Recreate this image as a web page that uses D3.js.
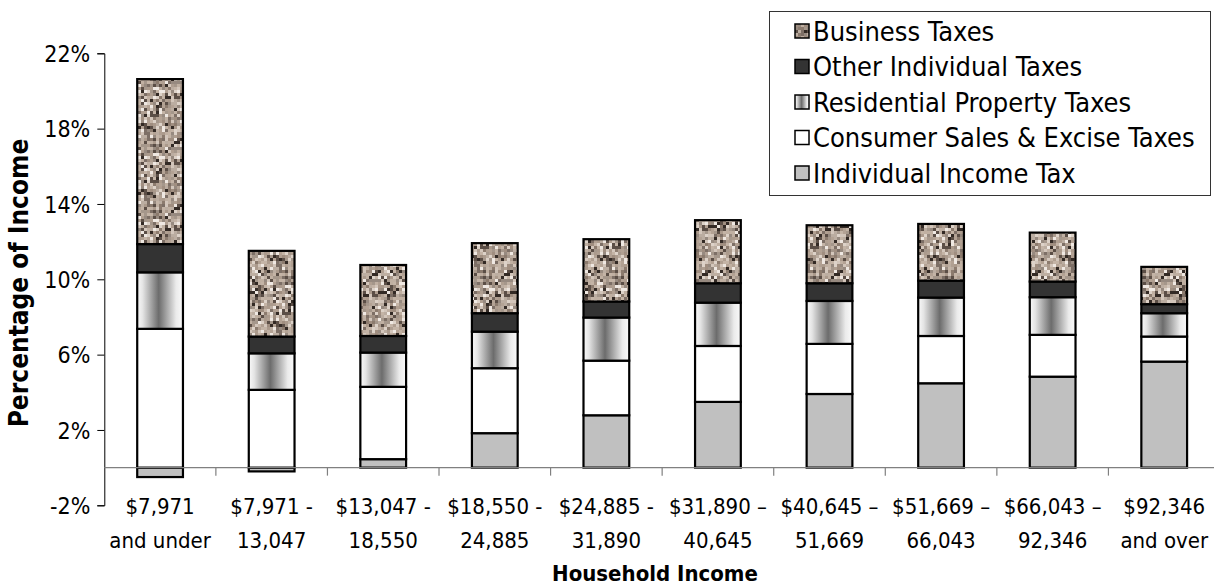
<!DOCTYPE html>
<html>
<head>
<meta charset="utf-8">
<script src="https://cdn.jsdelivr.net/npm/d3@7"></script>
<style>
  html, body { margin: 0; padding: 0; background: #fff; }
  svg { display: block; }
  text { font-family: "DejaVu Sans Condensed", "DejaVu Sans", sans-serif; font-stretch: condensed; fill: #000; }
</style>
</head>
<body>
<svg id="chart" width="1214" height="586"></svg>
<script>
// ---- data ----
const categoriesLine1 = ["$7,971", "$7,971 -", "$13,047 -", "$18,550 -", "$24,885 -", "$31,890 \u2013", "$40,645 \u2013", "$51,669 \u2013", "$66,043 \u2013", "$92,346"];
const categoriesLine2 = ["and under", "13,047", "18,550", "24,885", "31,890", "40,645", "51,669", "66,043", "92,346", "and over"];
const seriesNames = ["Individual Income Tax", "Consumer Sales & Excise Taxes", "Residential Property Taxes", "Other Individual Taxes", "Business Taxes"];
const incomeTax   = [-0.50, -0.20, 0.45, 1.83, 2.78, 3.49, 3.91, 4.48, 4.83, 5.63];
const consumer    = [ 7.37,  4.13, 3.84, 3.45, 2.90, 2.97, 2.66, 2.51, 2.22, 1.33];
const residential = [ 3.00,  1.94, 1.82, 1.94, 2.29, 2.30, 2.28, 2.04, 2.00, 1.24];
const otherIndiv  = [ 1.50,  0.89, 0.88, 0.98, 0.85, 1.03, 0.94, 0.90, 0.83, 0.48];
const business    = [ 8.76,  4.55, 3.77, 3.72, 3.31, 3.35, 3.08, 3.01, 2.60, 1.98];
const yTicks = [-2, 2, 6, 10, 14, 18, 22];

const seriesValues = [incomeTax, consumer, residential, otherIndiv, business];
const rows = categoriesLine1.map((c, i) => {
  const r = { idx: i };
  seriesNames.forEach((s, k) => r[s] = seriesValues[k][i]);
  return r;
});

// ---- setup ----
const svg = d3.select("#chart");
const defs = svg.append("defs");

// speckled texture for business taxes (deterministic hash, decorative only)
const pal = ["#b3a294", "#a08e80", "#c4b4a6", "#8c7b6e", "#d3c6bb", "#efe8e2", "#5b4e46", "#332a25",
             "#bbada1", "#978a80", "#ab9a8c", "#ddd2c8", "#b09f91", "#a5978b", "#7d6f66", "#c0b0a2"];
function mix(i, j, s) {
  let h = (Math.imul(i, 374761393) + Math.imul(j, 668265263) + Math.imul(s, 1442695041)) | 0;
  h = Math.imul(h ^ (h >>> 13), 1274126177);
  h = h ^ (h >>> 16);
  return h >>> 0;
}
function speckle(id, size, cell, seed) {
  const p = defs.append("pattern").attr("id", id)
    .attr("patternUnits", "userSpaceOnUse").attr("width", size).attr("height", size);
  p.append("rect").attr("width", size).attr("height", size).attr("fill", "#ab9b8d");
  const n = size / cell;
  for (let i = 0; i < n; i++) {
    for (let j = 0; j < n; j++) {
      const h = mix(i, j, seed) % pal.length;
      p.append("rect").attr("x", i * cell).attr("y", j * cell).attr("width", cell).attr("height", cell).attr("fill", pal[h]);
    }
  }
}
speckle("speckle", 66, 3, 7);
speckle("speckleL", 12, 3, 3);

const grad = defs.append("linearGradient").attr("id", "cyl")
  .attr("x1", "0%").attr("x2", "100%").attr("y1", "0%").attr("y2", "0%");
grad.append("stop").attr("offset", "0%").attr("stop-color", "#fafafa");
grad.append("stop").attr("offset", "12%").attr("stop-color", "#e4e4e4");
grad.append("stop").attr("offset", "47%").attr("stop-color", "#6c6c6c");
grad.append("stop").attr("offset", "85%").attr("stop-color", "#ebebeb");
grad.append("stop").attr("offset", "100%").attr("stop-color", "#fafafa");

const fills = {
  "Individual Income Tax": "#c0c0c0",
  "Consumer Sales & Excise Taxes": "#ffffff",
  "Residential Property Taxes": "url(#cyl)",
  "Other Individual Taxes": "#333333",
  "Business Taxes": "url(#speckle)"
};
const legendFills = Object.assign({}, fills, { "Business Taxes": "url(#speckleL)" });

const x = d3.scaleBand().domain(d3.range(categoriesLine1.length)).range([104.3, 1220]).padding(0);
const y = d3.scaleLinear().domain([-2, 22]).range([505.3, 53.3]);
const barFrac = 0.41;
const bw = x.bandwidth() * barFrac;

const stack = d3.stack().keys(seriesNames).offset(d3.stackOffsetDiverging);
const stacked = stack(rows);

// bars
const gBars = svg.append("g");
stacked.forEach(layer => {
  gBars.append("g").selectAll("rect").data(layer).join("rect")
    .attr("x", (d, i) => x(i) + (x.bandwidth() - bw) / 2)
    .attr("y", d => y(Math.max(d[0], d[1])))
    .attr("width", bw)
    .attr("height", d => Math.abs(y(d[0]) - y(d[1])))
    .attr("fill", fills[layer.key])
    .attr("stroke", "#000")
    .attr("stroke-width", 2.2);
});

// y axis
const yAxis = d3.axisLeft(y).tickValues(yTicks).tickFormat(d => d + "%").tickSize(7).tickPadding(7);
const gy = svg.append("g").attr("transform", "translate(104.3,0)").call(yAxis);
gy.select(".domain").attr("stroke", "#000").attr("stroke-width", 1);
gy.selectAll(".tick line").attr("stroke", "#000");
gy.selectAll(".tick text").attr("font-size", 23).attr("font-family", null).attr("dy", "0.36em");

// x axis line at zero + category boundary ticks
const x0 = y(0);
svg.append("line").attr("x1", 104.3).attr("x2", 1220).attr("y1", x0).attr("y2", x0)
  .attr("stroke", "#808080").attr("stroke-width", 1.2);
svg.append("g").selectAll("line").data(d3.range(1, categoriesLine1.length)).join("line")
  .attr("x1", i => x(i)).attr("x2", i => x(i))
  .attr("y1", x0).attr("y2", x0 + 8)
  .attr("stroke", "#808080").attr("stroke-width", 1.2);

// category labels
const gx = svg.append("g");
gx.selectAll("text.l1").data(categoriesLine1).join("text").attr("class", "l1")
  .attr("x", (d, i) => x(i) + x.bandwidth() / 2).attr("y", 514)
  .attr("text-anchor", "middle").attr("font-size", 22).text(d => d);
gx.selectAll("text.l2").data(categoriesLine2).join("text").attr("class", "l2")
  .attr("x", (d, i) => x(i) + x.bandwidth() / 2).attr("y", 548)
  .attr("text-anchor", "middle").attr("font-size", 22).text(d => d);

// axis titles
svg.append("text").attr("x", 655).attr("y", 581).attr("text-anchor", "middle")
  .attr("font-size", 22).attr("font-weight", "bold").text("Household Income");
svg.append("text").attr("transform", "translate(28,283) rotate(-90)").attr("text-anchor", "middle")
  .attr("font-size", 26).attr("font-weight", "bold").text("Percentage of Income");

// legend
const lg = svg.append("g");
lg.append("rect").attr("x", 769.5).attr("y", 11.5).attr("width", 441).attr("height", 184)
  .attr("fill", "#fff").attr("stroke", "#333").attr("stroke-width", 1);
const legendOrder = seriesNames.slice().reverse();
const rowY = d3.scalePoint().domain(legendOrder).range([31, 173]);
legendOrder.forEach(name => {
  const cy = rowY(name);
  lg.append("rect").attr("x", 795).attr("y", cy - 7).attr("width", 14).attr("height", 14)
    .attr("fill", legendFills[name]).attr("stroke", "#000").attr("stroke-width", 1.5);
  lg.append("text").attr("x", 813).attr("y", cy).attr("dy", "0.36em")
    .attr("font-size", 27).text(name);
});
</script>
</body>
</html>
